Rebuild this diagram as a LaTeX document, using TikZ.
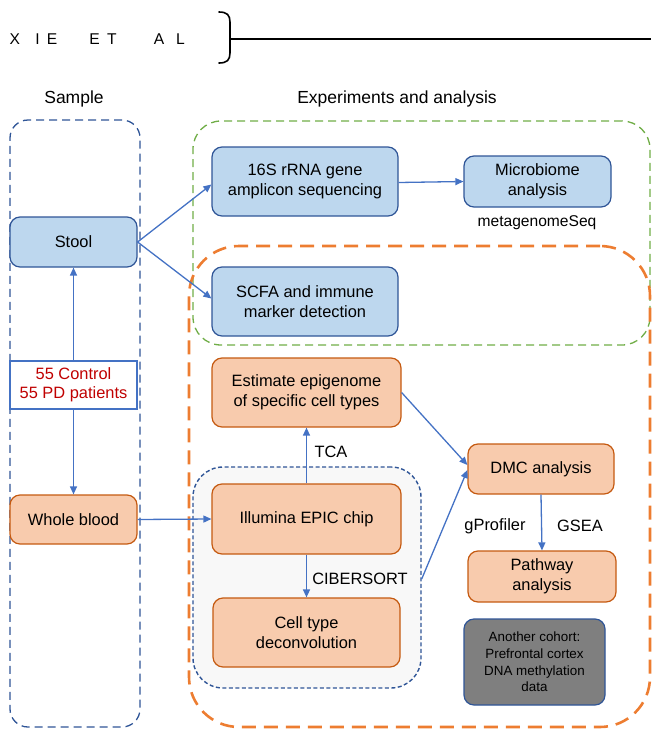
\documentclass[tikz,border=0pt]{standalone}
\usepackage{fontspec}
\setmainfont{Liberation Sans}
\usetikzlibrary{arrows.meta}
\definecolor{bfill}{HTML}{BDD7EE}
\definecolor{bdraw}{HTML}{2F5597}
\definecolor{ofill}{HTML}{F8CBAD}
\definecolor{odraw}{HTML}{C55A11}
\definecolor{arr}{HTML}{4472C4}
\definecolor{gdash}{HTML}{70AD47}
\definecolor{odash}{HTML}{ED7D31}
\definecolor{redt}{HTML}{C00000}
\definecolor{grayb}{HTML}{7F7F7F}
\definecolor{innerfill}{HTML}{F8F8F8}
\newcommand{\lett}[2]{\rlap{\hspace*{#1pt}#2}}
\tikzset{
  txt/.style={font=\fontsize{16.4}{19.5}\selectfont, align=center, inner sep=0pt},
  box/.style={txt, rounded corners=10pt, line width=1.2pt},
  bluebox/.style={box, draw=bdraw, fill=bfill},
  orbox/.style={box, draw=odraw, fill=ofill},
  arrow/.style={draw=arr, line width=1.3pt, -{Triangle[length=8pt,width=7pt]}},
  lbl/.style={txt},
}
\begin{document}
\begin{tikzpicture}[x=1pt,y=-1pt]
\useasboundingbox (0,0) rectangle (651,731);
% header
\node[anchor=base west, inner sep=0pt, font=\fontsize{15.6}{18}\selectfont] (title) at (8.9,44)
  {\lett{0}{X}\lett{25.7}{I}\lett{37.2}{E}\lett{79.9}{E}\lett{97.5}{T}\lett{144.4}{A}\lett{166.6}{L}};
\draw[line width=1.6pt, line cap=round] (219,12) .. controls (227,12) and (230,15) .. (230,22) -- (230,53) .. controls (230,60) and (227,63) .. (219,63);
\coordinate (lineend) at (651,39);
\draw[line width=1.6pt] (230,39) -- (lineend);
\node[txt, font=\fontsize{17.5}{20}\selectfont] (hsample) at (74,99) {Sample};
\node[txt, font=\fontsize{17.5}{20}\selectfont] (hexp) at (397,99) {Experiments and analysis};
% containers
\node[draw=bdraw, line width=1.3pt, dash pattern=on 8pt off 5pt, rounded corners=18pt, minimum width=130pt, minimum height=607pt, inner sep=0pt] (samplebox) at (75,423.5) {};
\node[draw=bdraw, fill=innerfill, line width=1.4pt, dash pattern=on 4pt off 2.5pt, rounded corners=30pt, minimum width=228pt, minimum height=221pt, inner sep=0pt] (inner) at (307,577.5) {};
\node[draw=gdash, line width=1.3pt, dash pattern=on 8pt off 5pt, rounded corners=28pt, minimum width=457pt, minimum height=224pt, inner sep=0pt] (green) at (421.5,233) {};
\node[draw=odash, line width=2.6pt, dash pattern=on 14pt off 8pt, rounded corners=50pt, minimum width=461pt, minimum height=481pt, inner sep=0pt] (orange) at (419.5,486.5) {};
% sample nodes
\node[bluebox, minimum width=127pt, minimum height=50pt] (stool) at (73.5,242) {Stool};
\node[txt, draw=arr, fill=white, line width=1.2pt, text=redt, minimum width=127pt, minimum height=48pt] (ctrl) at (73.5,385) {55 Control\\55 PD patients};
\node[orbox, minimum width=127pt, minimum height=49pt] (blood) at (73.5,519.5) {Whole blood};
% experiment nodes
\node[bluebox, minimum width=186pt, minimum height=69pt] (s16) at (305,181.5) {16S rRNA gene\\amplicon sequencing};
\node[bluebox, minimum width=147pt, minimum height=51pt] (micro) at (537.5,181.5) {Microbiome\\analysis};
\node[lbl, font=\fontsize{15.6}{18}\selectfont] (meta) at (537,223) {metagenomeSeq};
\node[bluebox, minimum width=186pt, minimum height=69pt] (scfa) at (305,301.5) {SCFA and immune\\marker detection};
\node[orbox, minimum width=189pt, minimum height=69pt] (est) at (306.5,392.5) {Estimate epigenome\\of specific cell types};
\node[orbox, minimum width=189pt, minimum height=70pt] (illum) at (306.5,519) {Illumina EPIC chip};
\node[orbox, minimum width=187pt, minimum height=69pt] (cell) at (306.5,632.5) {Cell type\\deconvolution};
\node[orbox, minimum width=146pt, minimum height=50pt] (dmc) at (541,469) {DMC analysis};
\node[orbox, minimum width=148pt, minimum height=51pt] (path) at (542,576.5) {Pathway\\analysis};
\node[box, draw=bdraw, fill=grayb, font=\fontsize{13.4}{16.7}\selectfont, minimum width=141pt, minimum height=86pt] (cohort) at (534.5,662) {Another cohort:\\Prefrontal cortex\\DNA methylation\\data};
% labels
\node[lbl] (tca) at (331,452) {TCA};
\node[lbl] (cib) at (360,579) {CIBERSORT};
\node[lbl] (gprof) at (495,526) {gProfiler};
\node[lbl] (gsea) at (580,526) {GSEA};
% arrows
\draw[arrow] (ctrl.north) -- (stool.south);
\draw[arrow] (ctrl.south) -- (blood.north);
\draw[arrow] (stool.east) -- ([yshift=-3pt]s16.west);
\draw[arrow] (stool.east) -- ([yshift=3pt]scfa.west);
\draw[arrow] ([yshift=-1pt]s16.east) -- (micro.west);
\draw[arrow] (blood.east) -- (illum.west);
\draw[arrow] (illum.north) -- (est.south);
\draw[arrow] (illum.south) -- (cell.north);
\draw[arrow] (est.east) -- ([yshift=4pt]dmc.west);
\draw[arrow] (inner.east |- cib) -- ([yshift=-1pt]dmc.west);
\draw[arrow] (dmc.south) -- (path.north);
\end{tikzpicture}
\end{document}
